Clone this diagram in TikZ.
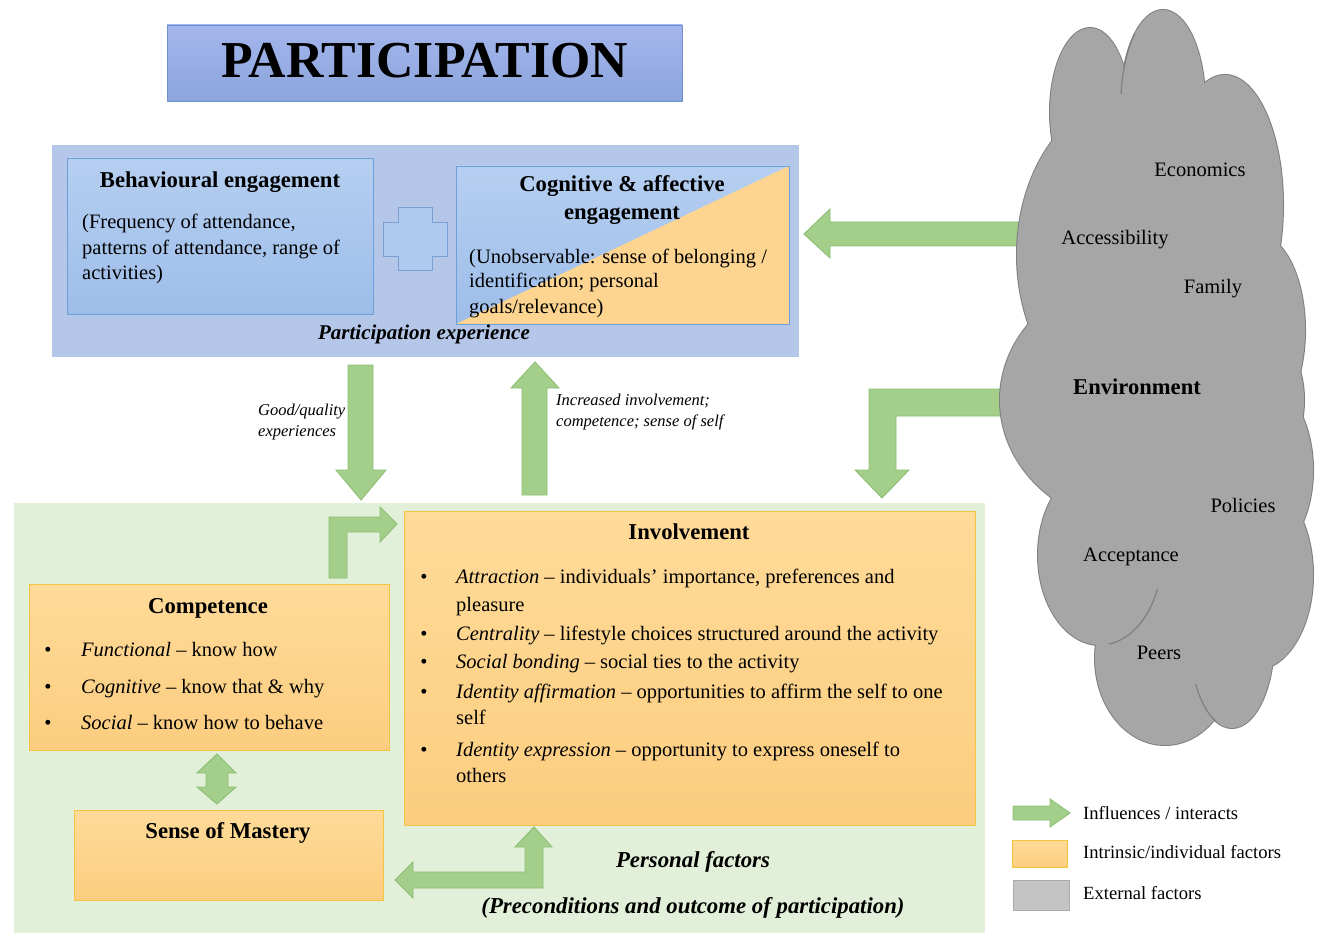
\documentclass[tikz,border=0pt]{standalone}
\usepackage{fontspec}
\setmainfont{Liberation Serif}
\definecolor{arrowgreen}{HTML}{A3CF8B}
\definecolor{arrowedge}{HTML}{8CBF74}
\definecolor{paleblue}{HTML}{B4C7E8}
\definecolor{palegreen}{HTML}{E2EFD9}
\definecolor{boxblueT}{HTML}{B6CFF1}
\definecolor{boxblueB}{HTML}{9DBDE9}
\definecolor{boxblueE}{HTML}{6F9FD8}
\definecolor{orangeT}{HTML}{FFDB98}
\definecolor{orangeB}{HTML}{FCCD80}
\definecolor{orangeE}{HTML}{F5C444}
\definecolor{orangeflat}{HTML}{FDD591}
\definecolor{cloudfill}{HTML}{A6A6A6}
\definecolor{cloudedge}{HTML}{7F7F7F}
\definecolor{bannerT}{HTML}{A3B6EC}
\definecolor{bannerB}{HTML}{8CA5DC}
\definecolor{bannerE}{HTML}{6F8FD0}
\definecolor{plusfill}{HTML}{AFC9EF}
\definecolor{plusedge}{HTML}{7A9FD0}
\definecolor{greyfill}{HTML}{C4C4C4}
\definecolor{greyedge}{HTML}{AAAAAA}
\begin{document}
\begin{tikzpicture}[x=1pt,y=-1pt,
  txt/.style={inner sep=0pt, anchor=base west, font=\fontsize{20.5}{24}\selectfont},
  ttl/.style={inner sep=0pt, anchor=base, font=\bfseries\fontsize{22.7}{26}\selectfont},
  bitl/.style={inner sep=0pt, anchor=base, font=\bfseries\itshape\fontsize{21}{25}\selectfont},
  bigbitl/.style={inner sep=0pt, anchor=base, font=\bfseries\itshape\fontsize{22.8}{27}\selectfont},
  small/.style={inner sep=0pt, anchor=base west, font=\itshape\fontsize{16.5}{20}\selectfont},
  legend/.style={inner sep=0pt, anchor=west, font=\fontsize{18.6}{22}\selectfont},
  cloudtxt/.style={inner sep=0pt, anchor=center, font=\fontsize{20.5}{24}\selectfont},
  blockarrow/.style={fill=arrowgreen, draw=arrowedge, line width=0.9pt, line join=miter},
  bluebox/.style={top color=boxblueT, bottom color=boxblueB, draw=boxblueE, line width=0.9pt},
  orangebox/.style={top color=orangeT, bottom color=orangeB, draw=orangeE, line width=0.9pt},
  bul/.style={inner sep=0pt, anchor=base, font=\fontsize{20.5}{24}\selectfont},
  lobeline/.style={cloudedge, line width=1.2pt}
]
\useasboundingbox (0,0) rectangle (1320,933);
\fill[white] (0,0) rectangle (1320,933);

% title banner
\shade[top color=bannerT, bottom color=bannerB] (167,25) rectangle (682,101);
\draw[bannerE, line width=0.9pt] (167,25) rectangle (682,101);
\node[inner sep=0pt, anchor=base, font=\bfseries\fontsize{51.8}{58}\selectfont] (title) at (424.5,78) {PARTICIPATION};

% participation experience panel
\fill[paleblue] (52,145) rectangle (799,357);
\draw[bluebox] (67,158) rectangle (373,314);
% plus sign between the two engagement boxes
\draw[fill=plusfill, draw=plusedge, line width=0.9pt]
  (398,207) -- (432,207) -- (432,222) -- (447,222) -- (447,256) -- (432,256) -- (432,270)
  -- (398,270) -- (398,256) -- (383,256) -- (383,222) -- (398,222) -- cycle;
% cognitive box: blue upper-left, orange lower-right
\shade[top color=boxblueT, bottom color=boxblueB] (456,166) rectangle (789,324);
\fill[orangeflat] (456,324) -- (789,166) -- (789,324) -- cycle;
\draw[boxblueE, line width=0.9pt] (456,166) rectangle (789,324);

\node[ttl] (behT) at (220,188) {Behavioural engagement};
\node[txt] (beh1) at (82,229) {(Frequency of attendance,};
\node[txt] (beh2) at (82,255) {patterns of attendance, range of};
\node[txt] (beh3) at (82,280) {activities)};
\node[ttl] (cogT1) at (622,192) {Cognitive \& affective};
\node[ttl] (cogT2) at (622,220) {engagement};
\node[txt] (cog1) at (469,264) {(Unobservable: sense of belonging /};
\node[txt] (cog2) at (469,288) {identification; personal};
\node[txt] (cog3) at (469,313) {goals/relevance)};
\node[bitl] (pexp) at (424,339) {Participation experience};

% personal factors panel
\fill[palegreen] (14,503) rectangle (985,933);
\draw[orangebox] (404,511) rectangle (975,825);
\draw[orangebox] (29,584) rectangle (389,750);
\draw[orangebox] (74,810) rectangle (383,900);

% green block arrows
% down: experiences feed into personal factors
\draw[blockarrow] (348,365) -- (373,365) -- (373,470) -- (386,470) -- (361,500) -- (336,470) -- (348,470) -- cycle;
% up: involvement back to experience
\draw[blockarrow] (522,495) -- (547,495) -- (547,388) -- (559,388) -- (535,362) -- (511,388) -- (522,388) -- cycle;
% environment to cognitive engagement
\draw[blockarrow] (1030,222) -- (830,222) -- (830,209) -- (804,234) -- (830,258) -- (830,246) -- (1030,246) -- cycle;
% environment to involvement (bent)
\draw[blockarrow] (1020,389) -- (869,389) -- (869,470) -- (855,470) -- (882,498) -- (909,470) -- (896,470) -- (896,416) -- (1020,416) -- cycle;
% competence to involvement (bent)
\draw[blockarrow] (329,578) -- (329,517) -- (380,517) -- (380,507) -- (397,524) -- (380,542) -- (380,532) -- (347,532) -- (347,578) -- cycle;
% competence <-> sense of mastery
\draw[blockarrow] (217,754) -- (236,773) -- (228,773) -- (228,787) -- (236,787) -- (217,804) -- (197,787) -- (206,787) -- (206,773) -- (197,773) -- cycle;
% involvement <-> sense of mastery (bent)
\draw[blockarrow] (534,827) -- (552,847) -- (543,847) -- (543,888) -- (413,888) -- (413,898) -- (395,880) -- (413,862) -- (413,872) -- (525,872) -- (525,847) -- (515,847) -- cycle;

\node[small] (lab1a) at (258,415) {Good/quality};
\node[small] (lab1b) at (258,436) {experiences};
\node[small] (lab2a) at (556,405) {Increased involvement;};
\node[small] (lab2b) at (556,426) {competence; sense of self};

% involvement
\node[ttl] (invT) at (689,539) {Involvement};
\node[bul] (ib1) at (424,583) {•};
\node[txt] (inv1) at (456,583) {\textit{Attraction} – individuals’ importance, preferences and};
\node[txt] (inv2) at (456,611) {pleasure};
\node[bul] (ib2) at (424,640) {•};
\node[txt] (inv3) at (456,640) {\textit{Centrality} – lifestyle choices structured around the activity};
\node[bul] (ib3) at (424,668) {•};
\node[txt] (inv4) at (456,668) {\textit{Social bonding} – social ties to the activity};
\node[bul] (ib4) at (424,698) {•};
\node[txt] (inv5) at (456,698) {\textit{Identity affirmation} – opportunities to affirm the self to one};
\node[txt] (inv6) at (456,724) {self};
\node[bul] (ib5) at (424,756) {•};
\node[txt] (inv7) at (456,756) {\textit{Identity expression} – opportunity to express oneself to};
\node[txt] (inv8) at (456,782) {others};

% competence
\node[ttl] (comT) at (208,613) {Competence};
\node[bul] (cb1) at (48,656) {•};
\node[txt] (com1) at (81,656) {\textit{Functional} – know how};
\node[bul] (cb2) at (48,693) {•};
\node[txt] (com2) at (81,693) {\textit{Cognitive} – know that \& why};
\node[bul] (cb3) at (48,729) {•};
\node[txt] (com3) at (81,729) {\textit{Social} – know how to behave};

\node[ttl] (masT) at (228,838) {Sense of Mastery};
\node[bigbitl] (pf) at (693,867) {Personal factors};
\node[bigbitl] (pre) at (693,913) {(Preconditions and outcome of participation)};

% environment cloud: outlined lobes, then refilled to hide inner edges
\def\lobes{1090/112/40/84, 1163/102/42/92, 1225/205/58/130, 1135/255/118/160,
    1258/330/47/95, 1152/400/152/130, 1265/470/48/85, 1255/575/58/95, 1100/555/62/90,
    1165/658/70/87, 1232/640/42/88, 1178/545/55/60}
\foreach \cx/\cy/\rx/\ry in \lobes
  \draw[cloudedge, line width=2pt] (\cx,\cy) ellipse [x radius=\rx, y radius=\ry];
\foreach \cx/\cy/\rx/\ry in \lobes
  \fill[cloudfill] (\cx,\cy) ellipse [x radius=\rx, y radius=\ry];
% a few lobe seams inside the cloud
\draw[lobeline] ([shift={(185:42 and 92)}]1163,102) arc[start angle=185, end angle=228, x radius=42, y radius=92];
\draw[lobeline] ([shift={(22:62 and 90)}]1100,555) arc[start angle=22, end angle=82, x radius=62, y radius=90];
\draw[lobeline] ([shift={(112:42 and 88)}]1232,640) arc[start angle=112, end angle=150, x radius=42, y radius=88];

\node[cloudtxt] (eco) at (1200,170) {Economics};
\node[cloudtxt] (acc) at (1115,240) {Accessibility};
\node[cloudtxt] (fam) at (1213,289) {Family};
\node[inner sep=0pt, anchor=center, font=\bfseries\fontsize{22.6}{26}\selectfont] (env) at (1137,387) {Environment};
\node[cloudtxt] (pol) at (1243,505) {Policies};
\node[cloudtxt] (acp) at (1131,557) {Acceptance};
\node[cloudtxt] (pee) at (1159,653) {Peers};

% legend
\draw[blockarrow] (1013,806) -- (1050,806) -- (1050,799) -- (1070,813) -- (1050,827) -- (1050,820) -- (1013,820) -- cycle;
\draw[orangebox] (1012,840) rectangle (1067,867);
\draw[fill=greyfill, draw=greyedge, line width=0.9pt] (1013,880) rectangle (1069,910);
\node[legend] (lg1) at (1083,813) {Influences / interacts};
\node[legend] (lg2) at (1083,852) {Intrinsic/individual factors};
\node[legend] (lg3) at (1083,893) {External factors};
\end{tikzpicture}
\end{document}
